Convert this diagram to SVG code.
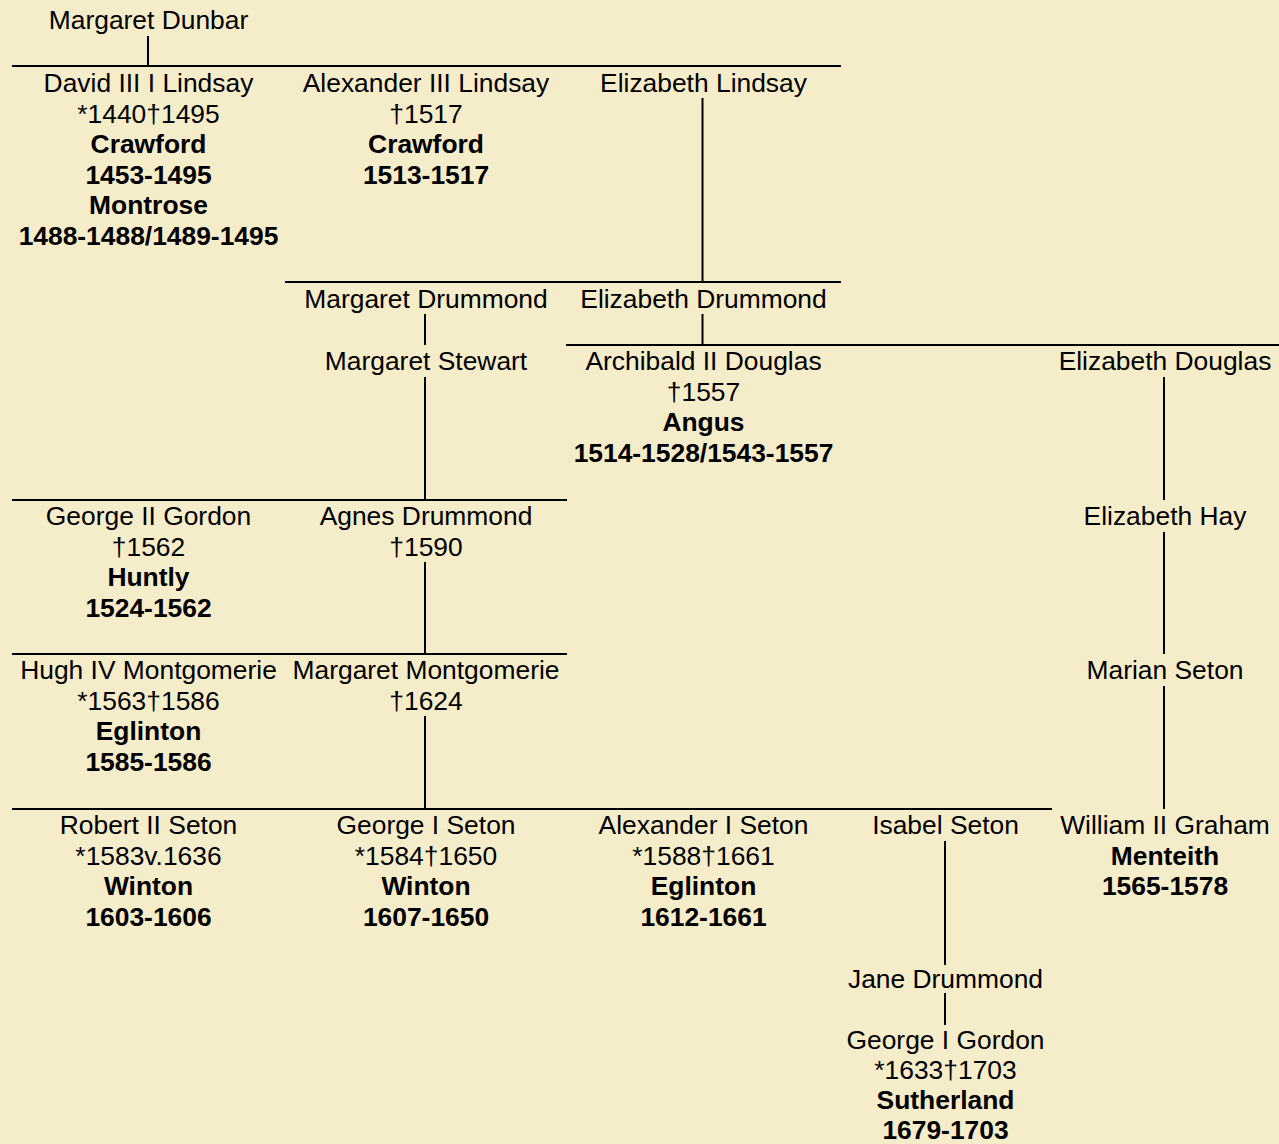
<svg xmlns="http://www.w3.org/2000/svg" width="1279" height="1144" viewBox="0 0 1279 1144">
<style>
text{font-family:"Liberation Sans",Arial,sans-serif;font-size:26.4px;fill:#000;text-anchor:middle}
.b{font-weight:bold}
.ln{stroke:#000;stroke-width:2;fill:none}
</style>
<rect width="1279" height="1144" fill="#F5ECCA"/>
<g id="connectors" class="ln">
<path d="M12 66H841M285 282H841M566 345H1279M12 500H567M12 654H567M12 809H1052"/>
<path d="M148 36V66M702.5 98V282M425 314V345M425 377V500M702.5 314V345M1164 377V500M1164 532V654M1164 686V809M425 562V654M425 716V809M945 841V965M945 993V1025"/>
</g>
<g id="margaret-dunbar"><text x="148.5" y="29">Margaret Dunbar</text></g>
<g id="david-lindsay"><text x="148.5" y="92">David III I Lindsay</text><text x="148.5" y="122.5">*1440†1495</text><text class="b" x="148.5" y="153">Crawford</text><text class="b" x="148.5" y="183.5">1453-1495</text><text class="b" x="148.5" y="214">Montrose</text><text class="b" x="148.5" y="244.5">1488-1488/1489-1495</text></g>
<g id="alexander-lindsay"><text x="426" y="92">Alexander III Lindsay</text><text x="426" y="122.5">†1517</text><text class="b" x="426" y="153">Crawford</text><text class="b" x="426" y="183.5">1513-1517</text></g>
<g id="elizabeth-lindsay"><text x="703.5" y="92">Elizabeth Lindsay</text></g>
<g id="margaret-drummond"><text x="426" y="308">Margaret Drummond</text></g>
<g id="elizabeth-drummond"><text x="703.5" y="308">Elizabeth Drummond</text></g>
<g id="margaret-stewart"><text x="426" y="370">Margaret Stewart</text></g>
<g id="archibald-douglas"><text x="703.5" y="370">Archibald II Douglas</text><text x="703.5" y="400.5">†1557</text><text class="b" x="703.5" y="431">Angus</text><text class="b" x="703.5" y="461.5">1514-1528/1543-1557</text></g>
<g id="elizabeth-douglas"><text x="1165" y="370">Elizabeth Douglas</text></g>
<g id="george-gordon-ii"><text x="148.5" y="525">George II Gordon</text><text x="148.5" y="555.5">†1562</text><text class="b" x="148.5" y="586">Huntly</text><text class="b" x="148.5" y="616.5">1524-1562</text></g>
<g id="agnes-drummond"><text x="426" y="525">Agnes Drummond</text><text x="426" y="555.5">†1590</text></g>
<g id="elizabeth-hay"><text x="1165" y="525">Elizabeth Hay</text></g>
<g id="hugh-montgomerie"><text x="148.5" y="679">Hugh IV Montgomerie</text><text x="148.5" y="709.5">*1563†1586</text><text class="b" x="148.5" y="740">Eglinton</text><text class="b" x="148.5" y="770.5">1585-1586</text></g>
<g id="margaret-montgomerie"><text x="426" y="679">Margaret Montgomerie</text><text x="426" y="709.5">†1624</text></g>
<g id="marian-seton"><text x="1165" y="679">Marian Seton</text></g>
<g id="robert-seton"><text x="148.5" y="834">Robert II Seton</text><text x="148.5" y="864.5">*1583v.1636</text><text class="b" x="148.5" y="895">Winton</text><text class="b" x="148.5" y="925.5">1603-1606</text></g>
<g id="george-seton"><text x="426" y="834">George I Seton</text><text x="426" y="864.5">*1584†1650</text><text class="b" x="426" y="895">Winton</text><text class="b" x="426" y="925.5">1607-1650</text></g>
<g id="alexander-seton"><text x="703.5" y="834">Alexander I Seton</text><text x="703.5" y="864.5">*1588†1661</text><text class="b" x="703.5" y="895">Eglinton</text><text class="b" x="703.5" y="925.5">1612-1661</text></g>
<g id="isabel-seton"><text x="945.5" y="834">Isabel Seton</text></g>
<g id="william-graham"><text x="1165" y="834">William II Graham</text><text class="b" x="1165" y="864.5">Menteith</text><text class="b" x="1165" y="895">1565-1578</text></g>
<g id="jane-drummond"><text x="945.5" y="988">Jane Drummond</text></g>
<g id="george-gordon-i"><text x="945.5" y="1048.5">George I Gordon</text><text x="945.5" y="1078.5">*1633†1703</text><text class="b" x="945.5" y="1108.5">Sutherland</text><text class="b" x="945.5" y="1138.5">1679-1703</text></g>
</svg>
